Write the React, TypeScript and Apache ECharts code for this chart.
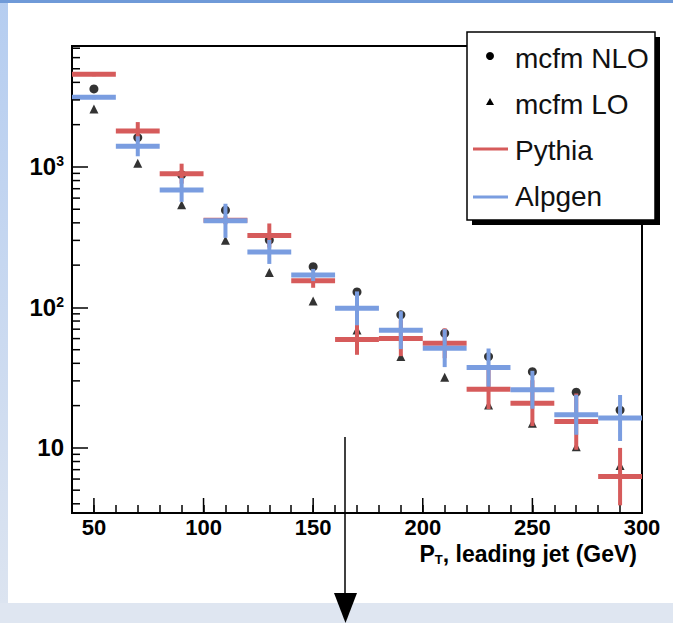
import React, { useEffect, useRef } from "react";
import * as echarts from "echarts";

// Bin centres (GeV), bin width 20
const binCenters = [50, 70, 90, 110, 130, 150, 170, 190, 210, 230, 250, 270, 290];
const binHalfWidth = 10;

// mcfm NLO (dots)
const mcfmNLO = [3590, 1617, 880, 492, 302, 195, 129, 88.5, 65.5, 44.7, 34.9, 24.9, 18.6];
// mcfm LO (triangles)
const mcfmLO = [2590, 1062, 537, 301, 177, 111, 69, 44.7, 31.9, 20.2, 15.0, 10.2, 7.5];

// Pythia (red)
const pythia = [4570, 1800, 896, 418, 325, 155, 59, 60, 55.6, 26.2, 20.8, 15.4, 6.25];
const pythiaLow = [4420, 1553, 761, 391, 267, 138, 46, 45, 43.5, 18.9, 14.3, 9.7, 3.9];
const pythiaHigh = [4720, 2086, 1055, 446, 396, 174, 75, 81, 71, 36.4, 30.3, 24.4, 10.0];

// Alpgen (blue)
const alpgen = [3130, 1403, 686, 414, 248, 170, 98.6, 68.9, 51.3, 37.3, 25.9, 17.2, 16.3];
const alpgenLow = [3030, 1191, 564, 313, 204, 154, 74.6, 50.5, 37.6, 27.3, 19, 12.4, 11.2];
const alpgenHigh = [3230, 1653, 835, 547, 302, 188, 130, 94, 70, 51, 35.4, 23.9, 23.8];

// Axis settings / tick values
const xMin = 40;
const xMax = 300;
const yMin = 3.44;
const yMax = 7260;
const xMajorTicks = [50, 100, 150, 200, 250];
const yMinorTicks = [
  4, 5, 6, 7, 8, 9,
  20, 30, 40, 50, 60, 70, 80, 90,
  200, 300, 400, 500, 600, 700, 800, 900,
  2000, 3000, 4000, 5000, 6000, 7000,
];
const yLabelMap: Record<number, string> = { 10: "{b|10}", 100: "{b|10}{s|2}", 1000: "{b|10}{s|3}" };

const RED = "#d65b5b";
const BLUE = "#7a9de0";
const FONT = '"Liberation Sans", Arial, sans-serif';

function crossSeries(name: string, color: string, v: number[], lo: number[], hi: number[], z: number) {
  return {
    type: "custom",
    name,
    z,
    data: binCenters.map((c, i) => [c, v[i], lo[i], hi[i]]),
    encode: { x: 0, y: 1 },
    renderItem: (params: any, api: any) => {
      const c = api.value(0);
      const y = api.value(1);
      const l = api.value(2);
      const h = api.value(3);
      const a = api.coord([c - binHalfWidth, y]);
      const b = api.coord([c + binHalfWidth, y]);
      const pl = api.coord([c, l]);
      const ph = api.coord([c, h]);
      return {
        type: "group",
        children: [
          { type: "line", shape: { x1: pl[0], y1: pl[1], x2: ph[0], y2: ph[1] }, style: { stroke: color, lineWidth: 4 } },
          { type: "line", shape: { x1: a[0], y1: a[1], x2: b[0], y2: b[1] }, style: { stroke: color, lineWidth: 5 } },
        ],
      };
    },
  };
}

export default function App() {
  const ref = useRef<HTMLDivElement>(null);
  useEffect(() => {
    if (!ref.current) return;
    const chart = echarts.init(ref.current, null, { renderer: "svg" });
    const option: any = {
      animation: false,
      backgroundColor: "#ffffff",
      grid: {
        left: 72, top: 46, width: 570, height: 467,
        show: true, borderColor: "#000", borderWidth: 2, backgroundColor: "transparent",
      },
      xAxis: {
        type: "value",
        min: xMin,
        max: xMax,
        interval: 10,
        axisLine: { show: true, lineStyle: { color: "#000", width: 2 } },
        axisTick: { show: true, inside: true, length: 8, lineStyle: { color: "#000", width: 1.5 } },
        splitLine: { show: false },
        axisLabel: {
          margin: 3,
          color: "#000",
          fontFamily: FONT,
          fontSize: 22,
          fontWeight: "bold",
          showMinLabel: true,
          showMaxLabel: true,
          formatter: (v: number) => (v % 50 === 0 ? String(v) : ""),
        },
      },
      yAxis: {
        type: "log",
        logBase: 10,
        min: yMin,
        max: yMax,
        axisLine: { show: true, lineStyle: { color: "#000", width: 2 } },
        axisTick: { show: true, inside: true, length: 16, lineStyle: { color: "#000", width: 1.5 } },
        splitLine: { show: false },
        axisLabel: {
          margin: 8,
          color: "#000",
          showMinLabel: false,
          showMaxLabel: false,
          formatter: (v: number) => {
            const k = Math.round(v);
            return yLabelMap[k] || "";
          },
          rich: {
            b: { fontFamily: FONT, fontSize: 24, fontWeight: "bold", color: "#000" },
            s: { fontFamily: FONT, fontSize: 14, fontWeight: "bold", color: "#000", verticalAlign: "top", padding: [0, 0, 11, 0] },
          },
        },
      },
      series: [
        {
          type: "custom",
          name: "yMinorTicks",
          silent: true,
          z: 5,
          data: yMinorTicks.map((v) => [xMin, v]),
          encode: { x: 0, y: 1 },
          renderItem: (params: any, api: any) => {
            const p = api.coord([api.value(0), api.value(1)]);
            return { type: "line", shape: { x1: p[0], y1: p[1], x2: p[0] + 8, y2: p[1] }, style: { stroke: "#000", lineWidth: 1.5 } };
          },
        },
        {
          type: "custom",
          name: "xMajorTicks",
          silent: true,
          z: 5,
          data: xMajorTicks.map((v) => [v, yMin]),
          encode: { x: 0, y: 1 },
          renderItem: (params: any, api: any) => {
            const p = api.coord([api.value(0), api.value(1)]);
            return { type: "line", shape: { x1: p[0], y1: p[1], x2: p[0], y2: p[1] - 15 }, style: { stroke: "#000", lineWidth: 1.5 } };
          },
        },
        {
          type: "scatter",
          name: "mcfm NLO",
          z: 2,
          symbol: "circle",
          symbolSize: 9,
          itemStyle: { color: "#000" },
          data: binCenters.map((c, i) => [c, mcfmNLO[i]]),
        },
        {
          type: "scatter",
          name: "mcfm LO",
          z: 2,
          symbol: "triangle",
          symbolSize: [9, 9],
          itemStyle: { color: "#000" },
          data: binCenters.map((c, i) => [c, mcfmLO[i]]),
        },
        crossSeries("Pythia", RED, pythia, pythiaLow, pythiaHigh, 3),
        crossSeries("Alpgen", BLUE, alpgen, alpgenLow, alpgenHigh, 4),
      ],
      graphic: [
        // page framing
        { type: "rect", z: -10, silent: true, shape: { x: 0, y: 0, width: 8, height: 603 },
          style: { fill: new echarts.graphic.LinearGradient(0, 0, 0, 1, [{ offset: 0, color: "#b5cdf0" }, { offset: 1, color: "#dce4f0" }]) } },
        { type: "rect", z: -10, silent: true, shape: { x: 0, y: 0, width: 673, height: 3 }, style: { fill: "#6f9ad8" } },
        { type: "rect", z: -10, silent: true, shape: { x: 0, y: 603, width: 673, height: 20 }, style: { fill: "#dfe6f1" } },
        // x axis title
        {
          type: "text", z: 20, silent: true, right: 36, top: 542,
          style: {
            text: "{a|P}{s|T}{a|, leading jet (GeV)}",
            rich: {
              a: { fontFamily: FONT, fontSize: 23, fontWeight: "bold", fill: "#000" },
              s: { fontFamily: FONT, fontSize: 13, fontWeight: "bold", fill: "#000", padding: [12, 0, 0, 0] },
            },
          },
        },
        // legend box with shadow
        { type: "rect", z: 30, silent: true, shape: { x: 472, y: 37, width: 188, height: 188 }, style: { fill: "#000" } },
        { type: "rect", z: 31, silent: true, shape: { x: 467, y: 32, width: 188, height: 188 }, style: { fill: "#fff", stroke: "#000", lineWidth: 1.5 } },
        { type: "circle", z: 32, silent: true, shape: { cx: 490, cy: 56, r: 4 }, style: { fill: "#000" } },
        { type: "polygon", z: 32, silent: true, shape: { points: [[490, 98], [494, 105], [486, 105]] }, style: { fill: "#000" } },
        { type: "line", z: 32, silent: true, shape: { x1: 473, y1: 149, x2: 508, y2: 149 }, style: { stroke: RED, lineWidth: 3 } },
        { type: "line", z: 32, silent: true, shape: { x1: 473, y1: 197, x2: 508, y2: 197 }, style: { stroke: BLUE, lineWidth: 3 } },
        { type: "text", z: 33, silent: true, x: 515, y: 58, style: { text: "mcfm NLO", font: `28px ${FONT}`, fill: "#111", textVerticalAlign: "middle" } },
        { type: "text", z: 33, silent: true, x: 515, y: 104, style: { text: "mcfm LO", font: `28px ${FONT}`, fill: "#111", textVerticalAlign: "middle" } },
        { type: "text", z: 33, silent: true, x: 515, y: 150, style: { text: "Pythia", font: `28px ${FONT}`, fill: "#111", textVerticalAlign: "middle" } },
        { type: "text", z: 33, silent: true, x: 515, y: 196, style: { text: "Alpgen", font: `28px ${FONT}`, fill: "#111", textVerticalAlign: "middle" } },
        // annotation arrow
        { type: "line", z: 40, silent: true, shape: { x1: 345, y1: 437, x2: 345, y2: 596 }, style: { stroke: "#000", lineWidth: 1.5 } },
        { type: "polygon", z: 40, silent: true, shape: { points: [[334, 593], [357, 593], [345.5, 623]] }, style: { fill: "#000" } },
      ],
    };
    chart.setOption(option);
    return () => chart.dispose();
  }, []);
  return <div ref={ref} style={{ position: "fixed", left: 0, top: 0, width: 673, height: 623 }} />;
}
